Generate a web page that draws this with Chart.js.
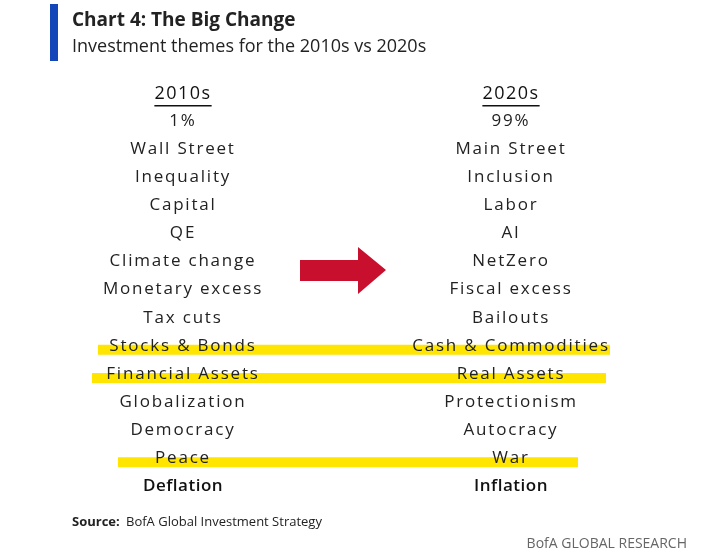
<!DOCTYPE html>
<html><head><meta charset="utf-8">
<script src="https://cdn.jsdelivr.net/npm/chart.js@4"></script>
<style>body{margin:0;background:#fff}canvas{display:block}</style>
</head><body>
<canvas id="c" width="701" height="556"></canvas>
<script>
const headers = ['2010s', '2020s'];
const themes2010s = ['1%', 'Wall Street', 'Inequality', 'Capital', 'QE', 'Climate change', 'Monetary excess', 'Tax cuts', 'Stocks & Bonds', 'Financial Assets', 'Globalization', 'Democracy', 'Peace', 'Deflation'];
const themes2020s = ['99%', 'Main Street', 'Inclusion', 'Labor', 'AI', 'NetZero', 'Fiscal excess', 'Bailouts', 'Cash & Commodities', 'Real Assets', 'Protectionism', 'Autocracy', 'War', 'Inflation'];
const highlightRows = [8, 9, 12];

// layout of the table (pixels in the 701x556 frame)
const colX = [183, 511];
const rowY = i => 121 + i * 28.1;
const hlSpan = {8: [98, 610], 9: [92, 606], 12: [118, 578]};

const datasets = highlightRows.map(r => ({
  type: 'line',
  data: [{x: hlSpan[r][0], y: rowY(r) + 4}, {x: hlSpan[r][1], y: rowY(r) + 4}],
  borderColor: '#FFE500', borderWidth: 10, pointRadius: 0, borderCapStyle: 'butt'
}));

const textPlugin = {
  id: 'text',
  afterDatasetsDraw(chart) {
    const {ctx, scales: {x, y}} = chart;
    ctx.save();
    // title block
    ctx.fillStyle = '#1346B8';
    ctx.fillRect(x.getPixelForValue(50), y.getPixelForValue(4), 8, 57);
    ctx.fillStyle = '#222';
    ctx.textBaseline = 'middle';
    ctx.font = 'bold 19px "Open Sans"';
    ctx.fillText('Chart 4: The Big Change', 72, 21);
    ctx.font = '18px "Open Sans"';
    ctx.fillText('Investment themes for the 2010s vs 2020s', 72, 47);
    // arrow
    ctx.fillStyle = '#C8102E';
    ctx.beginPath();
    ctx.moveTo(x.getPixelForValue(300), y.getPixelForValue(260));
    ctx.lineTo(x.getPixelForValue(358), y.getPixelForValue(260));
    ctx.lineTo(x.getPixelForValue(358), y.getPixelForValue(247));
    ctx.lineTo(x.getPixelForValue(386), y.getPixelForValue(270));
    ctx.lineTo(x.getPixelForValue(358), y.getPixelForValue(294));
    ctx.lineTo(x.getPixelForValue(358), y.getPixelForValue(281));
    ctx.lineTo(x.getPixelForValue(300), y.getPixelForValue(281));
    ctx.closePath();
    ctx.fill();
    // columns
    ctx.textAlign = 'center';
    [themes2010s, themes2020s].forEach((col, c) => {
      const cx = x.getPixelForValue(colX[c]);
      ctx.font = '18px "Open Sans"';
      ctx.letterSpacing = '1.5px';
      ctx.fillStyle = '#111';
      const hy = y.getPixelForValue(94);
      ctx.fillText(headers[c], cx, hy);
      const w = ctx.measureText(headers[c]).width;
      ctx.fillRect(cx - w / 2, hy + 11, w, 1.5);
      col.forEach((t, i) => {
        const last = i === col.length - 1;
        ctx.font = (last ? '600 ' : '') + '17px "Open Sans"';
        ctx.letterSpacing = last ? '0.5px' : '1.8px';
        ctx.fillStyle = last ? '#111' : '#222';
        ctx.fillText(t, cx, y.getPixelForValue(rowY(i)));
      });
    });
    ctx.letterSpacing = '0px';
    ctx.textAlign = 'left';
    ctx.font = 'bold 13px "Open Sans"';
    ctx.fillStyle = '#222';
    ctx.fillText('Source:', 72, 522);
    ctx.font = '13px "Open Sans"';
    ctx.fillText('BofA Global Investment Strategy', 126, 522);
    ctx.textAlign = 'right';
    ctx.font = '14px "Open Sans"';
    ctx.fillStyle = '#666';
    ctx.fillText('BofA GLOBAL RESEARCH', 687, 544);
    ctx.restore();
  }
};

new Chart(document.getElementById('c'), {
  type: 'line',
  data: {datasets},
  options: {
    responsive: false, animation: false,
    layout: {padding: 0},
    plugins: {legend: {display: false}, tooltip: {enabled: false}},
    scales: {
      x: {type: 'linear', min: 0, max: 701, display: false},
      y: {type: 'linear', min: 0, max: 556, reverse: true, display: false}
    }
  },
  plugins: [textPlugin]
});
</script>
</body></html>
